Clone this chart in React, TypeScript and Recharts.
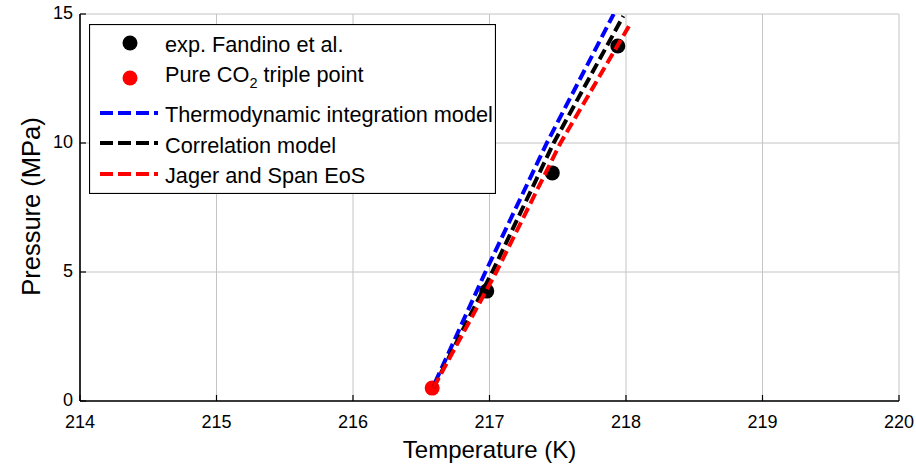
import React from 'react'
import {
  ComposedChart, Line, Scatter, XAxis, YAxis, CartesianGrid, Legend
} from 'recharts'

const FONT = '"Liberation Sans", Arial, Helvetica, sans-serif'

const xTicks = [214, 215, 216, 217, 218, 219, 220]
const yTicks = [0, 5, 10, 15]

// experimental points (Fandino et al.)
const expPoints = [
  { t: 216.98, p: 4.26 },
  { t: 217.46, p: 8.84 },
  { t: 217.94, p: 13.76 },
]

const triplePoint = [{ t: 216.58, p: 0.5 }]

const thermoModel = [
  { t: 216.6, p: 0.7 },
  { t: 216.97, p: 5 },
  { t: 217.42, p: 10 },
  { t: 217.91, p: 15 },
]

const correlationModel = [
  { t: 216.59, p: 0.52 },
  { t: 217.02, p: 5 },
  { t: 217.47, p: 10 },
  { t: 217.98, p: 14.92 },
]

const jagerSpan = [
  { t: 216.59, p: 0.52 },
  { t: 217.05, p: 5 },
  { t: 217.52, p: 10 },
  { t: 218.04, p: 14.7 },
]

const BottomTick = ({ x, y, payload }: any) => (
  <g>
    <line x1={x} y1={y} x2={x} y2={y - 6} stroke="#000" strokeWidth={1.2} />
    <text x={x} y={y + 27} textAnchor="middle" fontSize={18} fontFamily={FONT} fill="#000">
      {payload.value}
    </text>
  </g>
)

const TopTick = ({ x, y }: any) => (
  <line x1={x} y1={y} x2={x} y2={y + 6} stroke="#000" strokeWidth={1.2} />
)

const LeftTick = ({ x, y, payload }: any) => (
  <g>
    <line x1={x} y1={y} x2={x + 6} y2={y} stroke="#000" strokeWidth={1.2} />
    <text x={x - 7} y={y + 5} textAnchor="end" fontSize={18} fontFamily={FONT} fill="#000">
      {payload.value}
    </text>
  </g>
)

const RightTick = ({ x, y }: any) => (
  <line x1={x} y1={y} x2={x - 6} y2={y} stroke="#000" strokeWidth={1.2} />
)

const Dot = ({ cx, cy, fill }: any) => <circle cx={cx} cy={cy} r={7.5} fill={fill} />

const DashSample = ({ y, color }: { y: number; color: string }) => (
  <line x1={11} y1={y} x2={69} y2={y} stroke={color} strokeWidth={4} strokeDasharray="13 5" />
)

const LegendBox = () => (
  <svg width={407} height={170} style={{ display: 'block' }}>
    <rect x={0.5} y={0.5} width={406} height={169} fill="#fff" stroke="#000" strokeWidth={1.2} />
    <g fontFamily={FONT} fontSize={21.7} fill="#000">
      <circle cx={41} cy={19} r={7.5} fill="#000" />
      <text x={76} y={28}>exp. Fandino et al.</text>
      <circle cx={41} cy={54} r={7.5} fill="#ff0000" />
      <text x={76} y={58}>
        Pure CO<tspan fontSize={14.5} dy={6}>2</tspan>
        <tspan dy={-6}> triple point</tspan>
      </text>
      <DashSample y={89} color="#0000ff" />
      <text x={76} y={98}>Thermodynamic integration model</text>
      <DashSample y={119} color="#000" />
      <text x={76} y={129}>Correlation model</text>
      <DashSample y={150} color="#ff0000" />
      <text x={76} y={159}>Jager and Span EoS</text>
    </g>
  </svg>
)

const YLabel = ({ viewBox }: any) => {
  const cy = viewBox.y + viewBox.height / 2 - 1
  return (
    <text x={40} y={cy} transform={`rotate(-90, 40, ${cy})`} textAnchor="middle"
      fontSize={25.5} fontFamily={FONT} fill="#000">
      Pressure (MPa)
    </text>
  )
}

export default function App() {
  return (
    <div style={{ position: 'absolute', left: 0, top: 0, background: '#fff' }}>
      <ComposedChart width={916} height={465} margin={{ top: 14, right: 17, bottom: 0, left: 0 }}>
        <CartesianGrid stroke="#c4c4c4" strokeWidth={1} xAxisId="b" yAxisId="l" />
        <XAxis xAxisId="b" dataKey="t" type="number" domain={[214, 220]} ticks={xTicks}
          allowDataOverflow height={64} tickSize={0} tickMargin={0} tickLine={false}
          tick={<BottomTick />} axisLine={{ stroke: '#000', strokeWidth: 1.6 }}
          label={{ value: 'Temperature (K)', position: 'insideBottom', offset: 7,
            style: { fontSize: 24, fontFamily: FONT, fill: '#000' } }} />
        <XAxis xAxisId="t" orientation="top" dataKey="t" type="number" domain={[214, 220]}
          ticks={xTicks} allowDataOverflow height={0} tickSize={0} tickMargin={0}
          tickLine={false} tick={<TopTick />} axisLine={{ stroke: '#000', strokeWidth: 1.6 }} />
        <YAxis yAxisId="l" dataKey="p" type="number" domain={[0, 15]} ticks={yTicks}
          allowDataOverflow width={80} tickSize={0} tickMargin={0} tickLine={false}
          tick={<LeftTick />} axisLine={{ stroke: '#000', strokeWidth: 1.6 }}
          label={<YLabel />} />
        <YAxis yAxisId="r" orientation="right" dataKey="p" type="number" domain={[0, 15]}
          ticks={yTicks} allowDataOverflow width={0} tickSize={0} tickMargin={0}
          tickLine={false} tick={<RightTick />} axisLine={{ stroke: '#000', strokeWidth: 1.6 }} />
        <Scatter xAxisId="b" yAxisId="l" data={expPoints} fill="#000" zIndex={300}
          shape={<Dot fill="#000" />} isAnimationActive={false} />
        <Scatter xAxisId="b" yAxisId="l" data={triplePoint} fill="#ff0000" zIndex={300}
          shape={<Dot fill="#ff0000" />} isAnimationActive={false} />
        <Line xAxisId="b" yAxisId="l" data={thermoModel} dataKey="p" stroke="#0000ff"
          strokeWidth={4} strokeDasharray="11 5" dot={false} activeDot={false} zIndex={700}
          isAnimationActive={false} />
        <Line xAxisId="b" yAxisId="l" data={correlationModel} dataKey="p" stroke="#000"
          strokeWidth={4} strokeDasharray="11 5" dot={false} activeDot={false} zIndex={700}
          isAnimationActive={false} />
        <Line xAxisId="b" yAxisId="l" data={jagerSpan} dataKey="p" stroke="#ff0000"
          strokeWidth={4} strokeDasharray="11 5" dot={false} activeDot={false} zIndex={700}
          isAnimationActive={false} />
        <Legend layout="vertical" align="center" verticalAlign="middle" content={<LegendBox />}
          wrapperStyle={{ position: 'absolute', left: 89, top: 24, width: 407, height: 170 }} />
      </ComposedChart>
    </div>
  )
}
